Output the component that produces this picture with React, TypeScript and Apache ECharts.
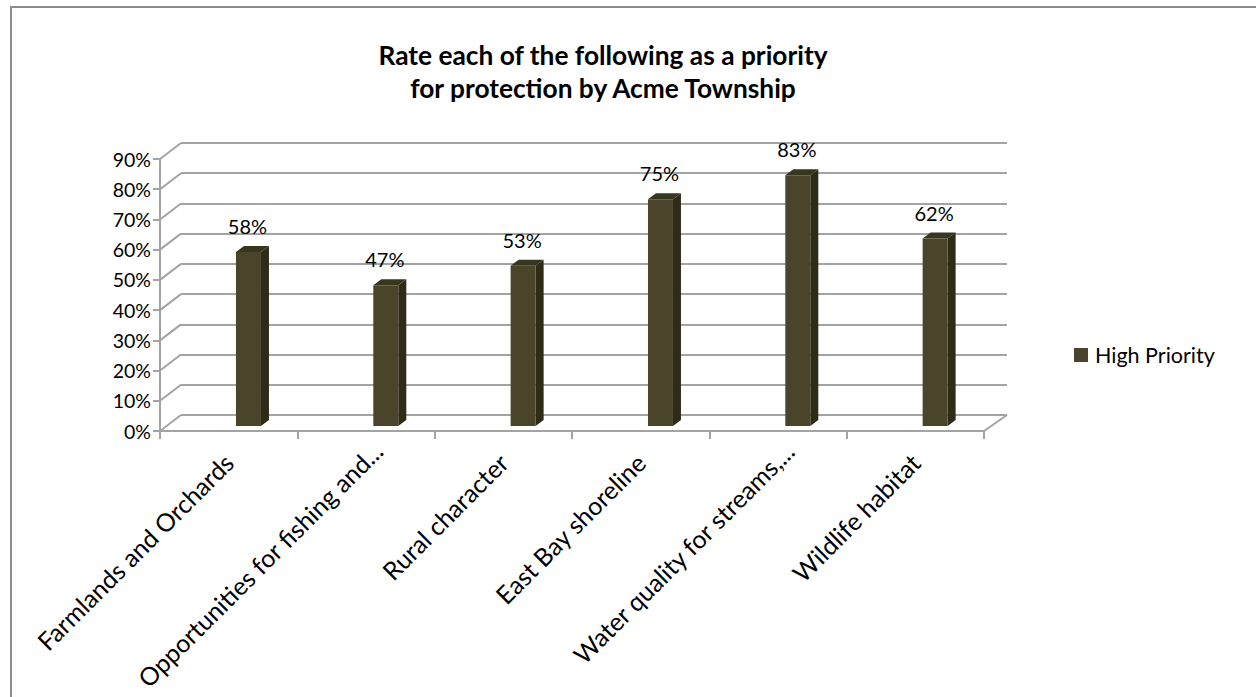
import React, { useEffect, useRef } from "react";
import * as echarts from "echarts";

const titleLines = ["Rate each of the following as a priority", "for protection by Acme Township"];
const categories = [
  "Farmlands and Orchards",
  "Opportunities for fishing and...",
  "Rural character",
  "East Bay shoreline",
  "Water quality for streams,...",
  "Wildlife habitat",
];
const highPriority = [0.576, 0.466, 0.53, 0.75, 0.83, 0.62];
const yTicks = [0, 0.1, 0.2, 0.3, 0.4, 0.5, 0.6, 0.7, 0.8, 0.9];
const seriesName = "High Priority";

const FONT = "Lato, Carlito, 'Open Sans', sans-serif";
const AXIS = "#a3a3a3";
const DX = 21;
const DY = -16;
const X_LABEL_SIZE = 25;
const TRUNCATED_SHIFT = 17;

// Truncated labels sit a little further along their baseline, as Excel places them.
function categoryItem(name: string) {
  if (!name.endsWith("...")) return name;
  const canvas = document.createElement("canvas");
  const ctx = canvas.getContext("2d")!;
  ctx.font = `${X_LABEL_SIZE}px ${FONT}`;
  const w = ctx.measureText(name).width;
  return {
    value: name,
    textStyle: { align: "center", padding: [0, Math.max(0, w - 2 * TRUNCATED_SHIFT), 0, 0] },
  };
}

export default function App() {
  const ref = useRef<HTMLDivElement>(null);
  useEffect(() => {
    document.body.style.margin = "0";
    const chart = echarts.init(ref.current!, undefined, { renderer: "svg" });
    chart.setOption({
      animation: false,
      backgroundColor: "#ffffff",
      title: {
        text: titleLines.join("\n"),
        left: 598,
        top: 33,
        textAlign: "center",
        textStyle: { fontFamily: FONT, fontSize: 26.3, fontWeight: "bold", color: "#000", lineHeight: 33 },
      },
      legend: {
        left: 1074,
        top: 344,
        padding: 0,
        itemWidth: 14,
        itemHeight: 14,
        itemGap: 0,
        icon: "rect",
        data: [{ name: seriesName, itemStyle: { color: "#4a452a" } }],
        textStyle: { fontFamily: FONT, fontSize: 21.5, color: "#000", padding: [0, 0, 0, 2] },
      },
      graphic: [
        {
          type: "polyline",
          shape: { points: [[11, 697], [11, 7], [1256, 7]] },
          style: { fill: "none", stroke: "#8c8c8c", lineWidth: 2 },
          silent: true,
          z: -1,
        },
      ],
      grid: [
        { left: 160, top: 159, width: 824, height: 272, containLabel: false, outerBoundsMode: "none" },
        { left: 181, top: 143, width: 826, height: 272, containLabel: false, outerBoundsMode: "none" },
      ],
      xAxis: [
        {
          type: "category",
          gridIndex: 0,
          data: categories.map(categoryItem),
          boundaryGap: true,
          axisLine: { show: true, lineStyle: { color: AXIS, width: 2 } },
          axisTick: { show: true, alignWithLabel: false, length: 8, lineStyle: { color: AXIS, width: 2 } },
          splitLine: { show: false },
          axisLabel: {
            interval: 0,
            rotate: 45,
            margin: 27,
            fontFamily: FONT,
            fontSize: X_LABEL_SIZE,
            color: "#000",
            hideOverlap: false,
          },
        },
        {
          type: "category",
          gridIndex: 1,
          data: categories,
          axisLine: { show: false },
          axisTick: { show: false },
          axisLabel: { show: false },
        },
      ],
      yAxis: [
        {
          type: "value",
          gridIndex: 0,
          min: 0,
          max: 0.9,
          interval: 0.1,
          axisLine: { show: true, lineStyle: { color: AXIS, width: 2 } },
          axisTick: { show: true, length: 7, lineStyle: { color: AXIS, width: 2 } },
          splitLine: { show: false },
          axisLabel: {
            margin: 9,
            fontFamily: FONT,
            fontSize: 19.5,
            color: "#000",
            formatter: (v: number) => `${Math.round(v * 100)}%`,
          },
        },
        {
          type: "value",
          gridIndex: 1,
          min: 0,
          max: 0.9,
          interval: 0.1,
          axisLine: { show: false },
          axisTick: { show: false },
          axisLabel: { show: false },
          splitLine: { show: true, lineStyle: { color: AXIS, width: 2 } },
        },
      ],
      series: [
        {
          type: "custom",
          name: "walls",
          xAxisIndex: 0,
          yAxisIndex: 0,
          silent: true,
          z: 1,
          data: yTicks,
          encode: { y: 0 },
          renderItem: (_p: any, api: any) => {
            const y = api.coord([0, api.value(0)])[1];
            const x0 = 160;
            return {
              type: "line",
              shape: { x1: x0, y1: y, x2: x0 + DX, y2: y + DY },
              style: { stroke: AXIS, lineWidth: 2, fill: "none" },
            };
          },
        },
        {
          type: "custom",
          name: "floor edge",
          xAxisIndex: 0,
          yAxisIndex: 0,
          silent: true,
          z: 1,
          data: [0],
          renderItem: (_p: any, api: any) => {
            const y = api.coord([0, 0])[1];
            const x0 = 984;
            return {
              type: "line",
              shape: { x1: x0, y1: y, x2: x0 + 23, y2: y + DY },
              style: { stroke: AXIS, lineWidth: 2, fill: "none" },
            };
          },
        },
        {
          type: "custom",
          name: seriesName,
          xAxisIndex: 0,
          yAxisIndex: 0,
          z: 5,
          silent: true,
          itemStyle: { color: "#4a452a" },
          data: highPriority.map((v, i) => [i, v]),
          encode: { x: 0, y: 1 },
          renderItem: (_p: any, api: any) => {
            const i = api.value(0);
            const v = api.value(1);
            const [cx, top0] = api.coord([i, v]);
            const base0 = api.coord([i, 0])[1];
            const l = cx + 7.3;
            const w = 25;
            const d = 8;
            const h = 6;
            const top = top0 - 5;
            const base = base0 - 5;
            return {
              type: "group",
              children: [
                {
                  type: "polygon",
                  shape: { points: [[l + w, top], [l + w + d, top - h], [l + w + d, base - h], [l + w, base]] },
                  style: { fill: "#2e2b17" },
                },
                {
                  type: "polygon",
                  shape: { points: [[l, top], [l + d, top - h], [l + w + d, top - h], [l + w, top]] },
                  style: { fill: "#39361f" },
                },
                {
                  type: "rect",
                  shape: { x: l, y: top, width: w, height: base - top },
                  style: { fill: "#4a452a" },
                },
                {
                  type: "text",
                  x: l + w / 2 - 1,
                  y: top - h - 20,
                  style: {
                    text: `${Math.round(v * 100)}%`,
                    fontFamily: FONT,
                    fontSize: 20,
                    fill: "#000",
                    align: "center",
                    verticalAlign: "middle",
                  },
                },
              ],
            };
          },
        },
      ],
    });
    return () => chart.dispose();
  }, []);
  return <div ref={ref} style={{ position: "absolute", left: 0, top: 0, width: 1256, height: 697 }} />;
}
